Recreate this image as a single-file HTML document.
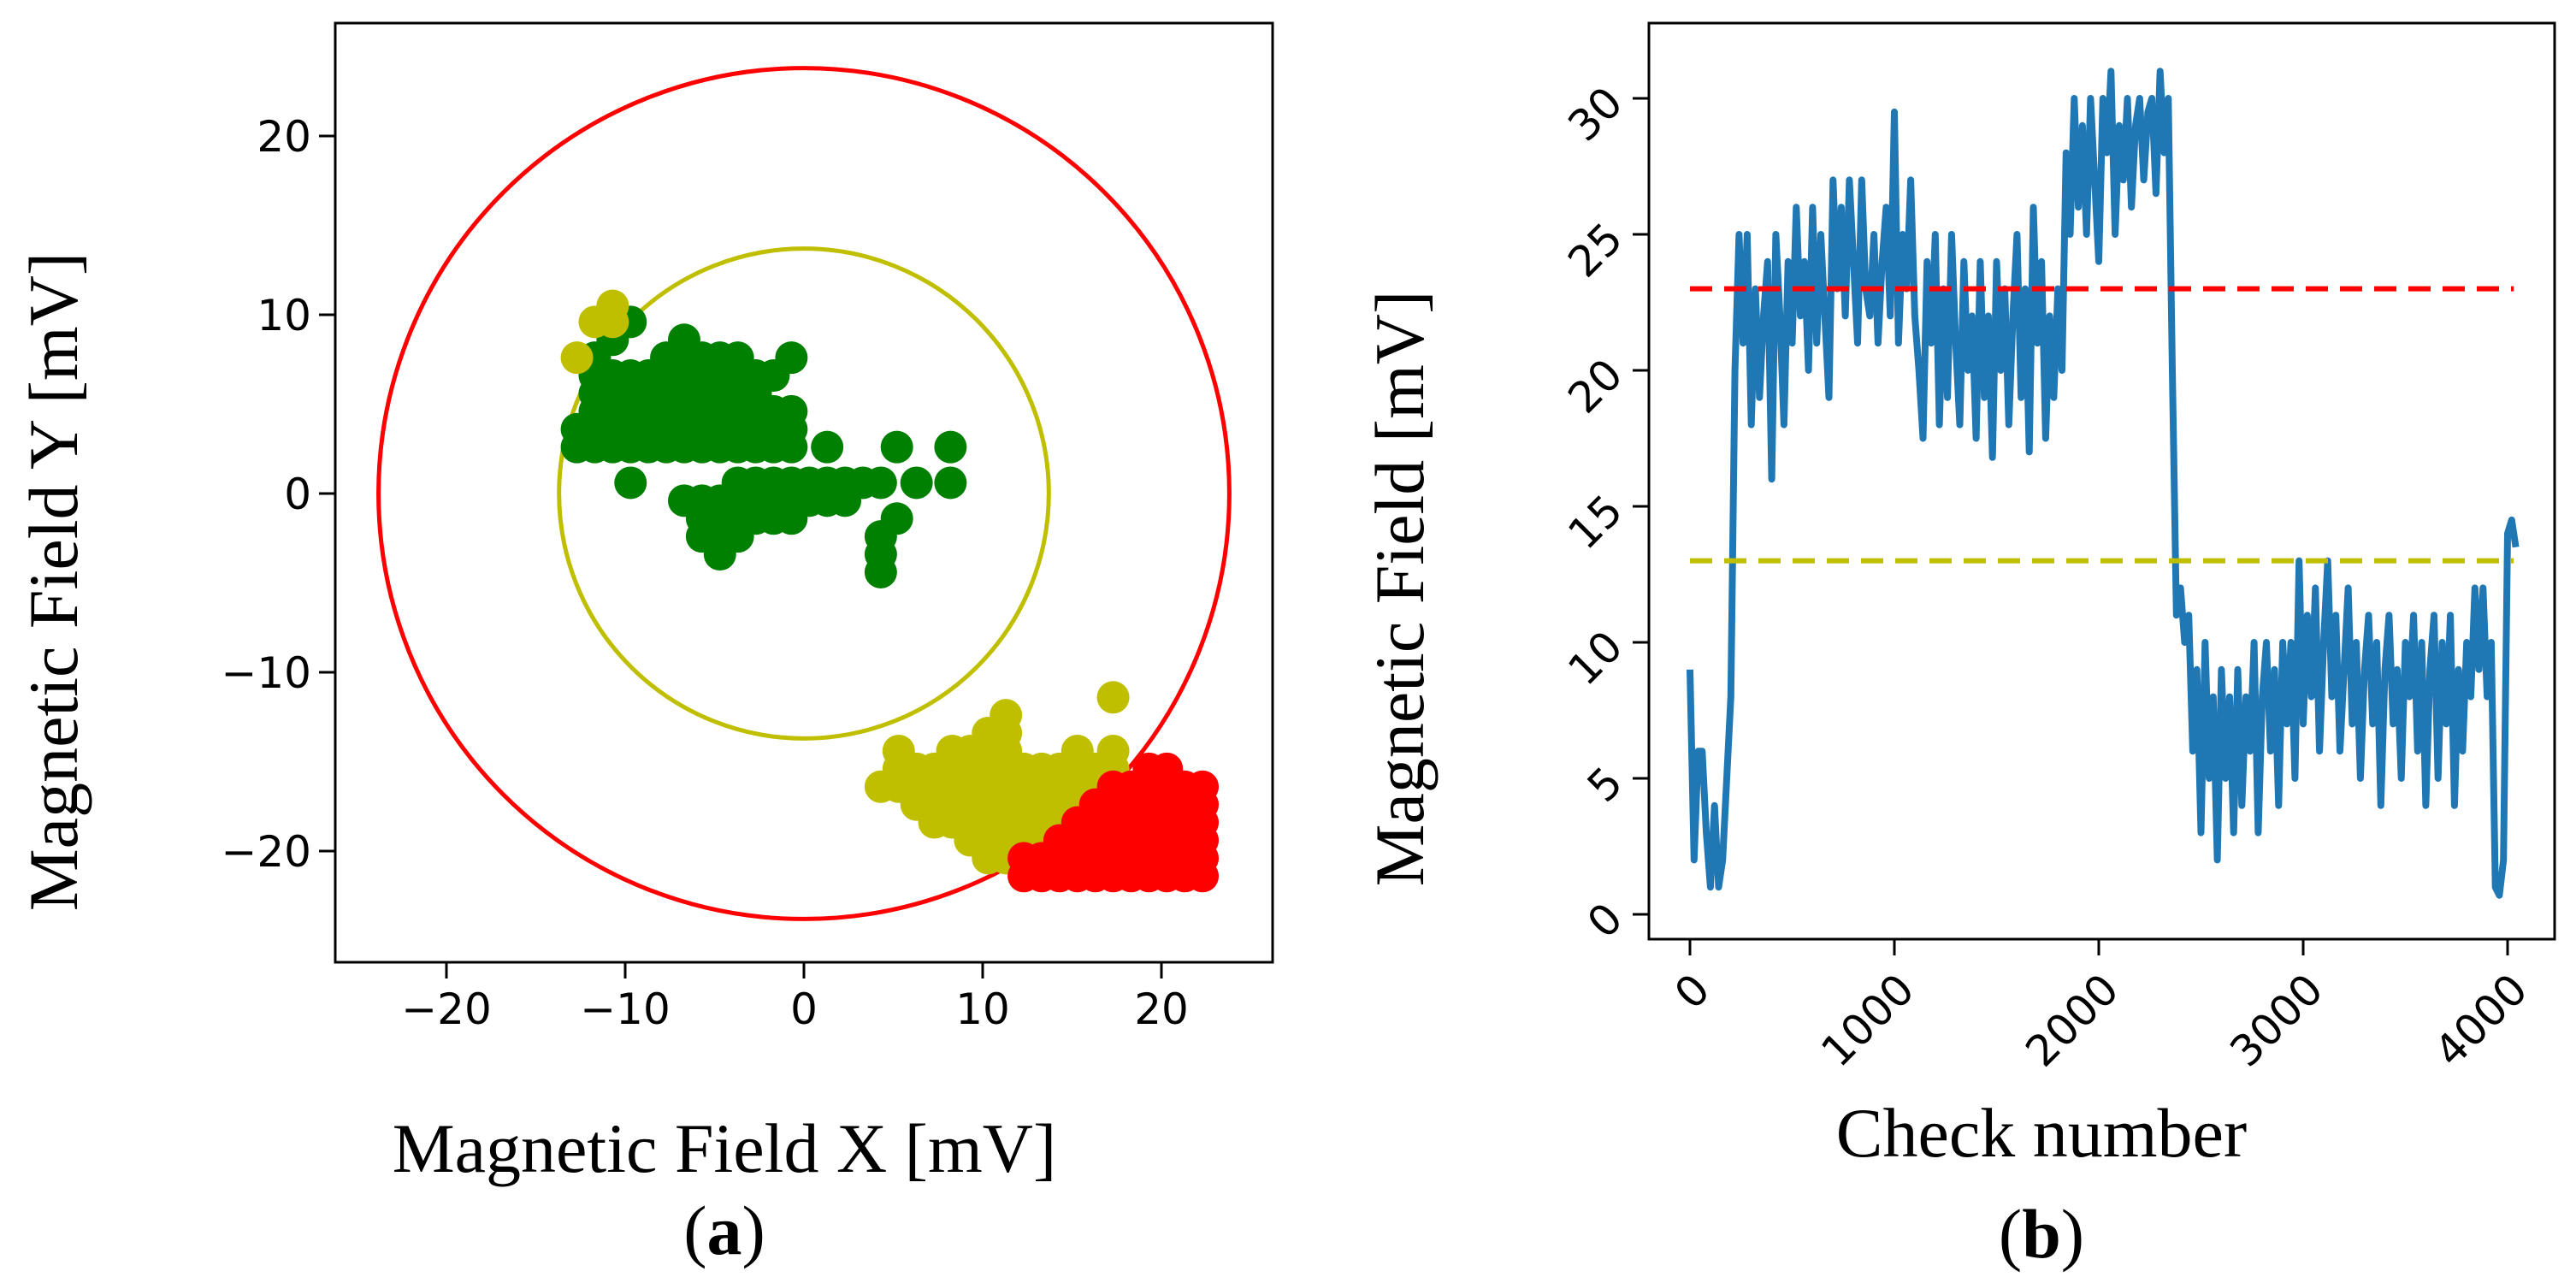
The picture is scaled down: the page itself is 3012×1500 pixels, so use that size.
<!DOCTYPE html>
<html><head><meta charset="utf-8"><style>
html,body{margin:0;padding:0;background:#fff;}
svg{display:block;}
.tick{font-family:"DejaVu Sans","Liberation Sans",sans-serif;font-size:50px;fill:#000;}
.lab{font-family:"Liberation Serif",serif;font-size:82px;fill:#000;}
</style></head><body>
<svg id="fig" width="3012" height="1500" viewBox="0 0 3012 1500" xmlns="http://www.w3.org/2000/svg">
<g id="pa"></g>
<g id="pb"></g>
</svg>
<script>
// ---------- Panel (a) data ----------
const aTicks = [-20, -10, 0, 10, 20];
const redRadius = 23.8;
const yellowRadius = 13.7;
// rows: [y, xStart, xEnd] on a 1-unit grid
const greenRows = [
 [9.6,-9.7,-9.7],[8.6,-10.7,-10.7],[8.6,-6.7,-6.7],
 [7.6,-11.7,-11.7],[7.6,-7.7,-3.7],[7.6,-0.7,-0.7],
 [6.6,-11.7,-1.7],[5.6,-11.7,-2.7],[4.6,-11.7,-0.7],[3.6,-12.7,-0.7],
 [2.6,-12.7,-0.6],[2.6,1.3,1.3],[2.6,5.2,5.2],[2.6,8.2,8.2],
 [0.6,-9.7,-9.7],[0.6,-3.7,4.3],[0.6,6.3,6.3],[0.6,8.2,8.2],
 [-0.4,-6.7,2.3],[-1.4,-5.7,-0.3],[-1.4,5.2,5.2],
 [-2.4,-5.7,-3.7],[-2.4,4.3,4.3],[-3.4,-4.7,-4.7],[-3.4,4.3,4.3],[-4.4,4.3,4.3]
];
const yellowRows = [
 [10.5,-10.7,-10.7],[9.6,-11.7,-10.7],[7.6,-12.7,-12.7],
 [-11.4,17.3,17.3],[-12.4,11.3,11.3],[-13.4,10.3,11.3],
 [-14.4,5.3,5.3],[-14.4,8.3,11.3],[-14.4,15.3,15.3],[-14.4,17.3,17.3],
 [-15.4,5.3,17.3],[-16.4,4.3,16.3],[-17.4,6.3,15.3],[-18.4,7.3,14.3],
 [-19.4,9.3,13.3],[-20.4,10.3,12.3]
];
const redRows = [
 [-15.4,19.3,20.3],[-16.4,17.3,22.3],[-17.4,16.3,22.3],[-18.4,15.3,22.3],
 [-19.4,14.3,22.3],[-20.4,12.3,22.3],[-21.4,12.3,22.3]
];
// ---------- Panel (b) data ----------
const bXTicks = [0, 1000, 2000, 3000, 4000];
const bYTicks = [0, 5, 10, 15, 20, 25, 30];
const checkStep = 20;
const fieldValues = [9,2,6,6,3,1,4,1,2,5,8,20,25,21,25,18,23,19,22,24,16,25,22,18,24,21,26,22,24,20,
26,21,25,22,19,27,23,26,22,27,24,21,27,23,22,25,21,24,26,22,29.5,21,25,23,27,22,20,17.5,24,21,
25,18,23,19,25,21,18,24,20,22,17.5,24,19,22,16.8,24,20,23,18,22,25,19,23,17,26,21,24,17.5,22,19,
23,20,28,25,30,26,29,25,30,27,24,30,28,31,25,29,27,30,26,29,30,27,29.5,30,26.5,31,28,30,20,11,
12,10,11,6,9,3,10,5,8,2,9,5,8,3,9,4,8,6,10,3,8,10,6,9,4,10,7,10,5,13,
7,11,8,12,6,10,13,8,11,6,9,12,7,10,5,9,11,7,10,4,9,11,7,9,5,10,8,11,6,10,
4,9,11,5,10,7,11,4,9,6,10,8,12,9,12,8,10,1,0.7,2,14,14.5,13.5];
const redThreshold = 23;
const yellowThreshold = 13;

const NS = "http://www.w3.org/2000/svg";
function mk(parent, tag, attrs, text){
  const e = document.createElementNS(NS, tag);
  for (const k in attrs) e.setAttribute(k, attrs[k]);
  if (text !== undefined) e.textContent = text;
  parent.appendChild(e);
  return e;
}

// ---------- Panel (a) ----------
(function(){
  const g = document.getElementById('pa');
  const L=392, T=27, R=1488, B=1125, x0=940, y0=577, s=20.9;
  const sx = v => x0 + v*s, sy = v => y0 - v*s;
  const cp = mk(g,'clipPath',{id:'clipA'});
  mk(cp,'rect',{x:L,y:T,width:R-L,height:B-T});
  const plot = mk(g,'g',{'clip-path':'url(#clipA)'});
  
  
  function drawRows(rows, color, name){
    const grp = mk(plot,'g',{fill:color});
    
    
    rows.forEach(r=>{
      for (let x=r[1]; x<=r[2]+0.01; x+=1){
        const c = mk(grp,'circle',{cx:sx(x),cy:sy(r[0]),r:19});
        
        
      }
    });
  }
  const rc = mk(plot,'circle',{cx:sx(0),cy:sy(0),r:redRadius*s,fill:'none',stroke:'#ff0000','stroke-width':5});
  
  
  const yc = mk(plot,'circle',{cx:sx(0),cy:sy(0),r:yellowRadius*s,fill:'none',stroke:'#bfbf00','stroke-width':5});
  
  
  drawRows(greenRows,'#008000','green-points');
  drawRows(yellowRows,'#bfbf00','yellow-points');
  drawRows(redRows,'#ff0000','red-points');
  const fr = mk(g,'rect',{x:L,y:T,width:R-L,height:B-T,fill:'none',stroke:'#000','stroke-width':3});
  
  
  aTicks.forEach(v=>{
    mk(g,'line',{x1:sx(v),x2:sx(v),y1:B,y2:B+19,stroke:'#000','stroke-width':3});
    const tx = mk(g,'text',{x:sx(v),y:B+72,'text-anchor':'middle',class:'tick'}, v<0?'\u2212'+(-v):String(v));
    
    
    mk(g,'line',{x1:L-19,x2:L,y1:sy(v),y2:sy(v),stroke:'#000','stroke-width':3});
    const ty = mk(g,'text',{x:L-28,y:sy(v)+18,'text-anchor':'end',class:'tick'}, v<0?'\u2212'+(-v):String(v));
    
    
  });
  const xl = mk(g,'text',{x:847,y:1370,'text-anchor':'middle',class:'lab'},'Magnetic Field X [mV]');
  
  
  const yl = mk(g,'text',{x:0,y:0,'text-anchor':'middle',class:'lab',transform:'translate(90,680) rotate(-90)'},'Magnetic Field Y [mV]');
  
  
  const cap = mk(g,'text',{x:847,y:1466,'text-anchor':'middle',class:'lab'});
  
  
  mk(cap,'tspan',{},'(');mk(cap,'tspan',{'font-weight':'bold'},'a');mk(cap,'tspan',{},')');
})();

// ---------- Panel (b) ----------
(function(){
  const g = document.getElementById('pb');
  const L=1928, T=27, R=2987, B=1098;
  const sx = v => 1976 + v*0.239, sy = v => 1069 - v*31.8;
  const cp = mk(g,'clipPath',{id:'clipB'});
  mk(cp,'rect',{x:L,y:T,width:R-L,height:B-T});
  const pts = fieldValues.map((v,i)=>sx(i*checkStep).toFixed(1)+','+sy(v).toFixed(1)).join(' ');
  const ln = mk(g,'polyline',{points:pts,fill:'none',stroke:'#1f77b4','stroke-width':8,'stroke-linejoin':'round','clip-path':'url(#clipB)'});
  
  
  const r1 = mk(g,'line',{x1:sx(0),x2:sx(4030),y1:sy(redThreshold),y2:sy(redThreshold),stroke:'#ff0000','stroke-width':6,'stroke-dasharray':'26 14'});
  
  
  const y1 = mk(g,'line',{x1:sx(0),x2:sx(4030),y1:sy(yellowThreshold),y2:sy(yellowThreshold),stroke:'#bfbf00','stroke-width':6,'stroke-dasharray':'26 14'});
  
  
  const fr = mk(g,'rect',{x:L,y:T,width:R-L,height:B-T,fill:'none',stroke:'#000','stroke-width':3});
  
  
  bXTicks.forEach(v=>{
    const x = sx(v);
    mk(g,'line',{x1:x,x2:x,y1:B,y2:B+19,stroke:'#000','stroke-width':3});
    const t = mk(g,'text',{x:0,y:0,'text-anchor':'end','dominant-baseline':'central',class:'tick',transform:'translate('+(x+14)+','+(B+50)+') rotate(-45)'},String(v));
    
    
  });
  bYTicks.forEach(v=>{
    const y = sy(v);
    mk(g,'line',{x1:L-19,x2:L,y1:y,y2:y,stroke:'#000','stroke-width':3});
    const t = mk(g,'text',{x:0,y:0,'text-anchor':'end','dominant-baseline':'central',class:'tick',transform:'translate('+(L-40)+','+(y-4)+') rotate(-45)'},String(v));
    
    
  });
  const xl = mk(g,'text',{x:2387,y:1352,'text-anchor':'middle',class:'lab'},'Check number');
  
  
  const yl = mk(g,'text',{x:0,y:0,'text-anchor':'middle',class:'lab',transform:'translate(1664,688) rotate(-90)'},'Magnetic Field [mV]');
  
  
  const cap = mk(g,'text',{x:2387,y:1470,'text-anchor':'middle',class:'lab'});
  
  
  mk(cap,'tspan',{},'(');mk(cap,'tspan',{'font-weight':'bold'},'b');mk(cap,'tspan',{},')');
})();
</script>
</body></html>
